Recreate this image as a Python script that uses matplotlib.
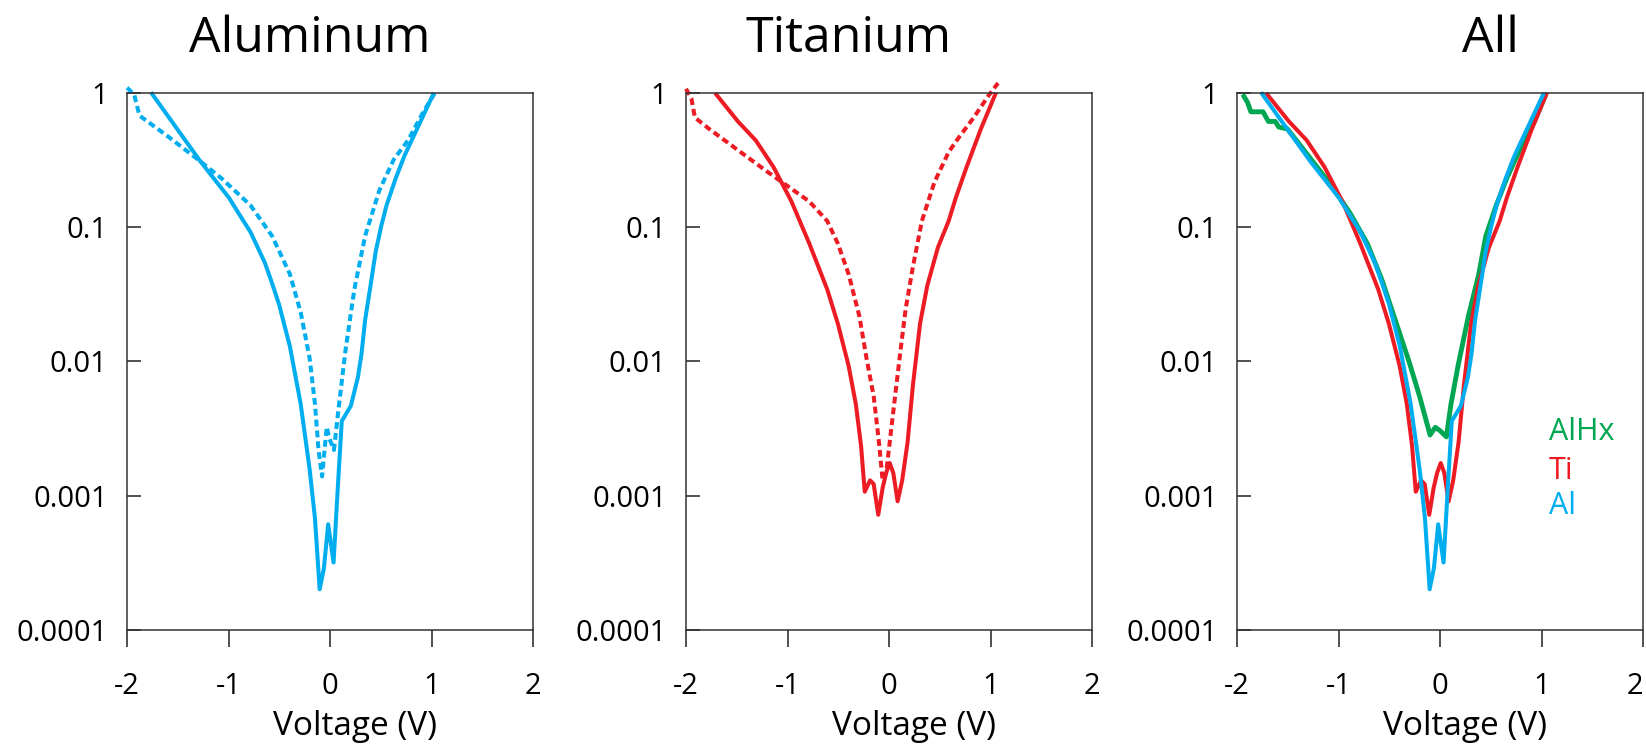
import matplotlib
matplotlib.use("Agg")
import matplotlib.pyplot as plt

plt.rcParams["font.family"] = ["Open Sans", "DejaVu Sans"]

# Current (normalised) vs. voltage sweeps
al_v = [-1.753, -1.277, -0.995, -0.890, -0.783, -0.642, -0.570, -0.501, -0.395, -0.289,
        -0.201, -0.148, -0.102, -0.060, -0.018, 0.035, 0.081, 0.116, 0.205, 0.275,
        0.310, 0.346, 0.399, 0.451, 0.504, 0.557, 0.646, 0.734, 0.804, 0.875,
        0.945, 1.016]
al_i = [0.98, 0.308, 0.165, 0.123, 0.0916, 0.0543, 0.038, 0.0264, 0.0129, 0.00482,
        0.00158, 0.000676, 0.000201, 0.000288, 0.000612, 0.000318, 0.0013, 0.00359, 0.00466, 0.00762,
        0.0113, 0.0203, 0.0366, 0.0661, 0.101, 0.145, 0.229, 0.340, 0.441, 0.573,
        0.745, 0.968]

al_dot_v = [-2.0, -1.929, -1.877, -1.594, -1.277, -1.065, -0.783, -0.571, -0.395, -0.289,
            -0.201, -0.148, -0.113, -0.078, -0.032, -0.007, 0.039, 0.081, 0.152, 0.240,
            0.293, 0.346, 0.487, 0.628, 0.769, 0.910, 1.034]
al_dot_i = [1.09, 0.968, 0.675, 0.471, 0.308, 0.229, 0.145, 0.0859, 0.0446, 0.0232,
            0.0106, 0.00482, 0.00219, 0.00139, 0.00325, 0.00267, 0.00219, 0.00423, 0.0120, 0.0344,
            0.0543, 0.0859, 0.188, 0.318, 0.442, 0.698, 1.0]

ti_v = [-1.701, -1.489, -1.313, -1.137, -0.961, -0.785, -0.609, -0.504, -0.398, -0.327,
        -0.275, -0.239, -0.187, -0.151, -0.106, -0.063, -0.028, 0.007, 0.042, 0.085,
        0.130, 0.183, 0.236, 0.306, 0.377, 0.482, 0.588, 0.658, 0.764, 0.905, 1.046]
ti_i = [0.968, 0.612, 0.442, 0.279, 0.155, 0.0753, 0.0344, 0.0191, 0.00927, 0.00482,
        0.00234, 0.00107, 0.0013, 0.00122, 0.000721, 0.00114, 0.00148, 0.00175, 0.00148, 0.000908,
        0.0013, 0.0025, 0.00668, 0.0191, 0.0366, 0.0705, 0.111, 0.165, 0.279, 0.537, 0.968]

ti_dot_v = [-2.0, -1.947, -1.912, -1.771, -1.489, -1.208, -0.996, -0.785, -0.609, -0.504,
            -0.398, -0.292, -0.222, -0.151, -0.099, -0.063, -0.028, 0.007, 0.060, 0.113,
            0.165, 0.236, 0.324, 0.447, 0.588, 0.694, 0.835, 0.975, 1.074]
ti_dot_i = [1.07, 0.906, 0.653, 0.537, 0.374, 0.261, 0.201, 0.155, 0.111, 0.0753,
            0.0446, 0.0217, 0.0106, 0.0055, 0.0025, 0.0013, 0.00148, 0.0025, 0.0055, 0.0120,
            0.0248, 0.0508, 0.111, 0.215, 0.362, 0.471, 0.653, 0.938, 1.18]

alhx_v = [-1.931, -1.897, -1.863, -1.743, -1.691, -1.623, -1.589, -1.503, -1.297, -1.092,
          -0.886, -0.715, -0.578, -0.440, -0.303, -0.200, -0.098, -0.046, 0.006, 0.063,
          0.108, 0.177, 0.279, 0.382, 0.451, 0.554, 0.656, 0.793, 0.931, 1.034]
alhx_i = [0.938, 0.849, 0.721, 0.721, 0.611, 0.611, 0.555, 0.537, 0.339, 0.214,
          0.127, 0.0750, 0.0416, 0.0202, 0.00984, 0.00546, 0.00283, 0.00323, 0.00302, 0.00274,
          0.00479, 0.0092, 0.0216, 0.0445, 0.0855, 0.145, 0.229, 0.386, 0.611, 0.938]

titles = ["Aluminum", "Titanium", "All"]
x_ticks = [-2, -1, 0, 1, 2]
x_ticklabels = ["-2", "-1", "0", "1", "2"]
y_ticks = [1e-4, 1e-3, 1e-2, 1e-1, 1]
y_ticklabels = ["0.0001", "0.001", "0.01", "0.1", "1"]
legend_names = ["AlHx", "Ti", "Al"]

BLUE = "#00AEEF"
RED = "#ED1C24"
GREEN = "#00A651"
LW = 2.9
DOTTED = (0, (1.7, 1.0))

W, H = 1646, 747
fig = plt.figure(figsize=(W / 100, H / 100), dpi=100)

ax_left = [127, 686, 1237]
ax_w, ax_top, ax_bot = 406, 92.7, 630
ax_h = ax_bot - ax_top
title_x = [310, 848, 1490]

axes = []
for left in ax_left:
    ax = fig.add_axes([left / W, (H - ax_bot) / H, ax_w / W, ax_h / H])
    axes.append(ax)

for ax, title, tx, left in zip(axes, titles, title_x, ax_left):
    ax.set_yscale("log")
    ax.set_xlim(-2, 2)
    ax.set_ylim(1e-4, 1)
    ax.set_xticks(x_ticks, labels=x_ticklabels)
    ax.set_yticks(y_ticks, labels=y_ticklabels)
    ax.minorticks_off()
    ax.tick_params(axis="x", direction="out", length=12, width=1.1, pad=18,
                   labelsize=21, color="#222222")
    ax.tick_params(axis="y", direction="in", length=10, width=1.1, pad=14,
                   labelsize=21, color="#222222")
    for sp in ax.spines.values():
        sp.set_linewidth(1.1)
        sp.set_color("#333333")
    ax.set_xlabel("Voltage (V)", fontsize=24)
    ax.xaxis.set_label_coords((355 - 127) / ax_w, (ax_bot - 710) / ax_h)
    ax.text((tx - left) / ax_w, (ax_bot - 52) / ax_h, title,
            transform=ax.transAxes, ha="center", va="baseline", fontsize=36)

ax1, ax2, ax3 = axes

# keep the last tick label of the right panel inside the figure
ax3.get_xticklabels()[-1].set_horizontalalignment("right")

ax1.plot(al_dot_v, al_dot_i, color=BLUE, lw=LW, ls=DOTTED, clip_on=False)
ax1.plot(al_v, al_i, color=BLUE, lw=LW, clip_on=False)

ax2.plot(ti_dot_v, ti_dot_i, color=RED, lw=LW, ls=DOTTED, clip_on=False)
ax2.plot(ti_v, ti_i, color=RED, lw=LW, clip_on=False)

ax3.plot(alhx_v, alhx_i, color=GREEN, lw=LW + 0.6, clip_on=False)
ax3.plot(ti_v, ti_i, color=RED, lw=LW, clip_on=False)
ax3.plot(al_v, al_i, color=BLUE, lw=LW, clip_on=False)

# colour-coded labels instead of a legend box
for name, color, base in zip(legend_names, [GREEN, RED, BLUE], [440, 479, 514]):
    ax3.text((1549 - 1237) / ax_w, (ax_bot - base) / ax_h, name,
             transform=ax3.transAxes, color=color, fontsize=22, ha="left", va="baseline")

fig.savefig("out.png", dpi=100)
